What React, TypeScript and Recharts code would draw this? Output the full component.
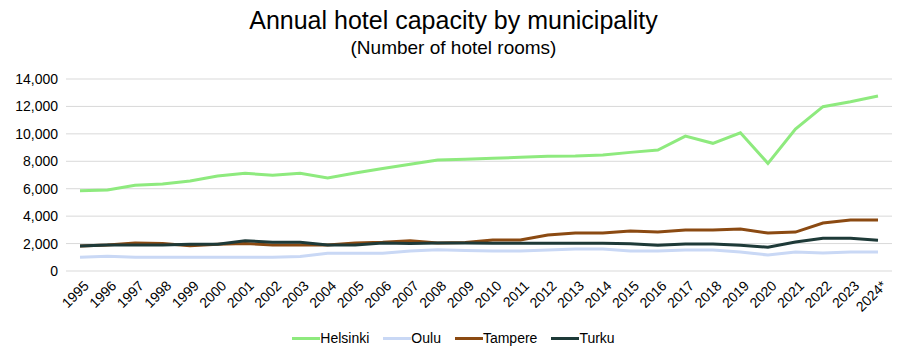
import React from 'react';
import { LineChart, Line, XAxis, YAxis, CartesianGrid } from 'recharts';

const years = ['1995', '1996', '1997', '1998', '1999', '2000', '2001', '2002', '2003', '2004', '2005', '2006', '2007', '2008', '2009', '2010', '2011', '2012', '2013', '2014', '2015', '2016', '2017', '2018', '2019', '2020', '2021', '2022', '2023', '2024*'];

const helsinki = [5850, 5900, 6250, 6340, 6560, 6920, 7120, 6980, 7120, 6780, 7150, 7480, 7780, 8090, 8140, 8220, 8290, 8360, 8380, 8460, 8650, 8820, 9840, 9310, 10080, 7850, 10350, 11980, 12340, 12760];
const oulu = [1000, 1080, 1000, 1000, 1000, 1000, 1000, 1000, 1050, 1300, 1300, 1300, 1450, 1550, 1500, 1460, 1460, 1530, 1600, 1600, 1460, 1460, 1530, 1530, 1385, 1165, 1385, 1310, 1385, 1385];
const tampere = [1830, 1900, 2050, 2000, 1850, 1950, 2000, 1900, 1900, 1900, 2050, 2100, 2200, 2050, 2080, 2260, 2260, 2620, 2770, 2770, 2910, 2840, 2990, 2990, 3060, 2770, 2840, 3500, 3720, 3720];
const turku = [1830, 1900, 1900, 1900, 1950, 1950, 2200, 2100, 2100, 1900, 1900, 2050, 2000, 2050, 2050, 2020, 2020, 2020, 2020, 2020, 1990, 1870, 1970, 1970, 1870, 1730, 2110, 2380, 2380, 2240];

const yTicks = [0, 2000, 4000, 6000, 8000, 10000, 12000, 14000];

const series = [
  { key: 'helsinki', name: 'Helsinki', color: '#8EEA7E' },
  { key: 'oulu', name: 'Oulu', color: '#C9D8F5' },
  { key: 'tampere', name: 'Tampere', color: '#8B4A12' },
  { key: 'turku', name: 'Turku', color: '#1E3A38' },
];

const data = years.map((year, i) => ({
  year,
  helsinki: helsinki[i],
  oulu: oulu[i],
  tampere: tampere[i],
  turku: turku[i],
}));

const FONT = '"Liberation Sans", Arial, sans-serif';

const YearTick = (props: any) => {
  const { x, y, payload } = props;
  return (
    <g transform={`translate(${x + 4},${y + 2})`}>
      <text x={0} y={0} dy={8} textAnchor="end" transform="rotate(-45)" fill="#000" fontSize={14} fontFamily={FONT}>
        {payload.value}
      </text>
    </g>
  );
};

export default function App() {
  return (
    <div style={{ position: 'absolute', left: 0, top: 0, width: 907, height: 361, background: '#fff', fontFamily: FONT }}>
      <div style={{ position: 'absolute', top: 5, left: 0, width: 907, textAlign: 'center', fontSize: 25, color: '#000', lineHeight: '30px' }}>
        Annual hotel capacity by municipality
      </div>
      <div style={{ position: 'absolute', top: 36, left: 0, width: 907, textAlign: 'center', fontSize: 19, color: '#000', lineHeight: '24px' }}>
        (Number of hotel rooms)
      </div>
      <div style={{ position: 'absolute', top: 0, left: 0 }}>
        <LineChart width={907} height={361} data={data} margin={{ top: 79, right: 15, left: 0, bottom: 40 }}>
          <CartesianGrid vertical={false} stroke="#d9d9d9" />
          <XAxis
            dataKey="year"
            interval={0}
            axisLine={false}
            tickLine={false}
            padding={{ left: 14, right: 14 }}
            height={50}
            tick={<YearTick />}
          />
          <YAxis
            ticks={yTicks}
            domain={[0, 14000]}
            width={66}
            axisLine={false}
            tickLine={false}
            tick={{ fill: '#000', fontSize: 14, fontFamily: FONT }}
            tickFormatter={(v: number) => v.toLocaleString('en-US')}
          />
          {series.map((s) => (
            <Line
              key={s.key}
              type="linear"
              dataKey={s.key}
              name={s.name}
              stroke={s.color}
              strokeWidth={3}
              dot={false}
              isAnimationActive={false}
            />
          ))}
        </LineChart>
      </div>
      <div style={{ position: 'absolute', top: 330, left: 0, width: 907, display: 'flex', justifyContent: 'center', fontSize: 14, color: '#000', gap: 14 }}>
        {series.map((s) => (
          <div key={s.key} style={{ display: 'flex', alignItems: 'center' }}>
            <span style={{ display: 'inline-block', width: 28, height: 3, background: s.color }} />
            <span>{s.name}</span>
          </div>
        ))}
      </div>
    </div>
  );
}
